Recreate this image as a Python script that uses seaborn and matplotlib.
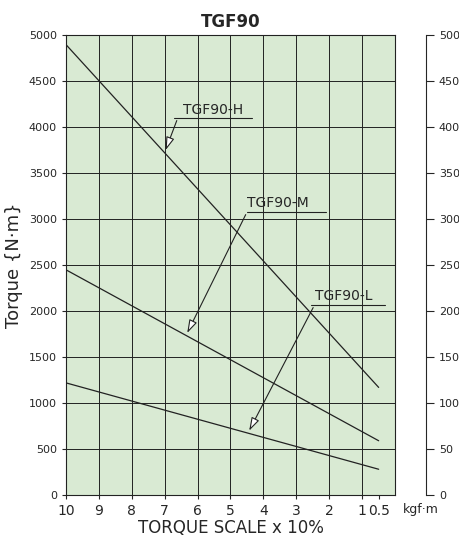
import numpy as np
import pandas as pd
import matplotlib
matplotlib.use('Agg')
import matplotlib.pyplot as plt
import seaborn as sns

# x = torque scale (x10%), y = torque N·m
scale = [10, 0.5]
h_vals = [4900, 1170]
m_vals = [2450, 590]
l_vals = [1220, 280]
x_ticks = [10, 9, 8, 7, 6, 5, 4, 3, 2, 1, 0.5]
x_labels = ['10', '9', '8', '7', '6', '5', '4', '3', '2', '1', '0.5']

df = pd.DataFrame({
    'scale': scale * 3,
    'torque': h_vals + m_vals + l_vals,
    'model': ['H'] * 2 + ['M'] * 2 + ['L'] * 2,
})

sns.set_style('white')
plt.rcParams['font.family'] = ['DejaVu Sans']

fig = plt.figure(figsize=(4.6, 5.5), dpi=100)
ax = fig.add_axes([0.143, 0.1, 0.716, 0.836])
ax.set_facecolor('#d9ead3')

sns.lineplot(data=df, x='scale', y='torque', units='model', estimator=None,
             color='#222222', lw=0.9, ax=ax, legend=False)

ax.set_xlim(10, 0)
ax.set_ylim(0, 5000)
ax.set_xticks(x_ticks)
ax.set_xticklabels(x_labels, fontsize=10)
ax.set_yticks(np.arange(0, 5001, 500))
ax.tick_params(axis='y', labelsize=8, direction='out', length=3, left=True)
ax.tick_params(axis='x', direction='out', length=3, bottom=True)
for v in range(1, 10):
    ax.axvline(v, color='#222222', lw=0.7, zorder=0.5)
ax.grid(True, which='major', axis='y', color='#222222', lw=0.7)
ax.set_axisbelow(True)
for s in ax.spines.values():
    s.set_color('#222222')
    s.set_linewidth(0.8)

ax.set_xlabel('TORQUE SCALE x 10%', fontsize=12, labelpad=1)
ax.set_ylabel('Torque {N·m}', fontsize=13)
ax.set_title('TGF90', fontsize=12, fontweight='bold', pad=6)

ax2 = ax.twinx()
ax2.set_ylim(0, 500)
ax2.set_yticks(np.arange(0, 501, 50))
ax2.tick_params(axis='y', labelsize=8, direction='out', length=6, right=True)
ax2.spines['right'].set_position(('outward', 22))
ax2.spines['top'].set_visible(False)
ax2.spines['left'].set_visible(False)
ax2.spines['bottom'].set_visible(False)
fig.text(0.915, 0.068, 'kgf·m', fontsize=9, ha='center')

labels = [
    ('TGF90-H', (6.44, 4185), (6.6, 4100), (7.0, 3722), 6.7, 4.35),
    ('TGF90-M', (4.50, 3174), (4.5, 3076), (6.35, 1735), 4.5, 2.1),
    ('TGF90-L', (2.43, 2163), (2.45, 2065), (4.47, 673), 2.55, 0.3),
]
for name, txt, start, end, u0, u1 in labels:
    ax.text(txt[0], txt[1], name, fontsize=10, ha='left', va='center')
    ax.plot([u0, u1], [start[1], start[1]], color='#222222', lw=0.8)
    ax.annotate('', xy=end, xytext=start,
                arrowprops=dict(arrowstyle='-|>,head_length=0.8,head_width=0.25',
                                fc='white', ec='#222222', lw=0.8))

fig.savefig('out.png', dpi=100)
